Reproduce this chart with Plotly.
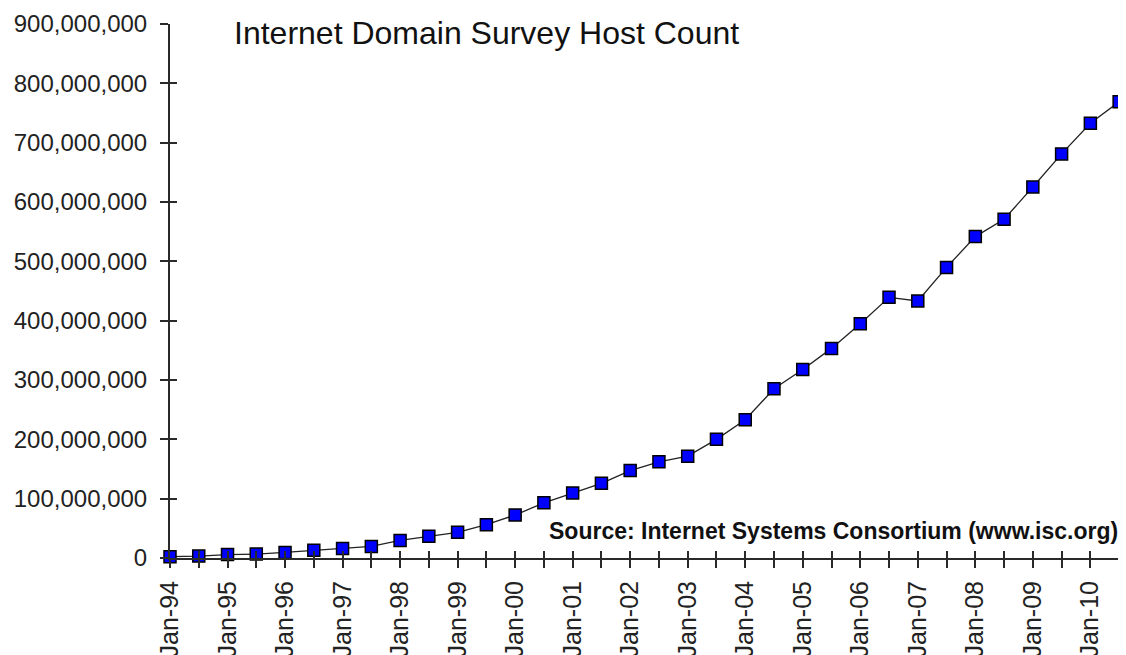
import plotly.graph_objects as go

dates = ["Jan-94","Jul-94","Jan-95","Jul-95","Jan-96","Jul-96","Jan-97","Jul-97",
         "Jan-98","Jul-98","Jan-99","Jul-99","Jan-00","Jul-00","Jan-01","Jul-01",
         "Jan-02","Jul-02","Jan-03","Jul-03","Jan-04","Jul-04","Jan-05","Jul-05",
         "Jan-06","Jul-06","Jan-07","Jul-07","Jan-08","Jul-08","Jan-09","Jul-09",
         "Jan-10","Jul-10"]
hosts = [2217000, 3212000, 5846000, 6642000, 9472000, 12881000, 16146000, 19540000,
         29670000, 36739000, 43230000, 56218000, 72398092, 93047785, 109574429, 125888197,
         147344723, 162128493, 171638297, 200000000, 233101481, 285139107, 317646084, 353284187,
         394991609, 439286364, 433193199, 489774269, 541677360, 570937778, 625226456, 681064561,
         732740444, 768913036]
y_ticks = [0, 100000000, 200000000, 300000000, 400000000, 500000000,
           600000000, 700000000, 800000000, 900000000]
y_tick_labels = ["0", "100,000,000", "200,000,000", "300,000,000", "400,000,000",
                 "500,000,000", "600,000,000", "700,000,000", "800,000,000", "900,000,000"]

idx = list(range(len(dates)))
x_tick_labels = [d if d.startswith("Jan") else "" for d in dates]

FONT = "Liberation Sans, Arial, sans-serif"
AX = "#2a2a2a"
XR = [0, 33.1]

fig = go.Figure()
fig.add_trace(go.Scatter(
    x=idx, y=hosts, mode="lines+markers",
    line=dict(color="#222222", width=1.3),
    marker=dict(symbol="square", size=12, color="#0000ff",
                line=dict(color="#000000", width=1.5)),
    cliponaxis=False, showlegend=False, hoverinfo="x+y"))
# invisible trace on overlay axes to draw inward half of crossing ticks
fig.add_trace(go.Scatter(
    x=idx, y=hosts, xaxis="x2", yaxis="y2", mode="markers",
    marker=dict(opacity=0), showlegend=False, hoverinfo="skip"))

# page body has an 8px margin, so the figure is sized to end at the window edge
fig.update_layout(
    width=1118, height=647,
    margin=dict(l=162, r=4, t=16, b=97),
    paper_bgcolor="white", plot_bgcolor="white",
    font=dict(family=FONT, color="#222222"),
    xaxis=dict(range=XR, tickmode="array", tickvals=idx, ticktext=x_tick_labels,
               tickangle=-90, ticks="outside", ticklen=8, tickwidth=2, tickcolor=AX,
               showline=True, linecolor=AX, linewidth=2, showgrid=False, zeroline=False,
               automargin=False, ticklabelstandoff=3,
               tickfont=dict(size=25, family=FONT, color="#222222")),
    yaxis=dict(range=[0, 900000000], tickmode="array", tickvals=y_ticks,
               ticktext=y_tick_labels, ticks="outside", ticklen=8, tickwidth=2,
               tickcolor=AX, showline=True, linecolor=AX, linewidth=2,
               showgrid=False, zeroline=False, ticklabelstandoff=8, automargin=False,
               tickfont=dict(size=24, family=FONT, color="#222222")),
    xaxis2=dict(overlaying="x", anchor="y2", range=XR, tickmode="array",
                tickvals=idx, ticks="inside", ticklen=7, tickwidth=2, tickcolor=AX,
                showticklabels=False, showline=False, showgrid=False, zeroline=False),
    yaxis2=dict(overlaying="y", anchor="x2", side="left", range=[0, 900000000],
                tickmode="array", tickvals=y_ticks, ticks="inside", ticklen=7,
                tickwidth=2, tickcolor=AX, showticklabels=False, showline=False,
                showgrid=False, zeroline=False),
    annotations=[
        dict(text="Internet Domain Survey Host Count", xref="paper", yref="paper",
             x=0.065, y=0.983, xanchor="left", yanchor="middle", showarrow=False,
             font=dict(size=32, family=FONT, color="#111111")),
        dict(text="<b>Source: Internet Systems Consortium (www.isc.org)</b>",
             xref="paper", yref="paper", x=0.998, y=0.05, xanchor="right",
             yanchor="middle", showarrow=False,
             font=dict(size=23, family=FONT, color="#111111")),
    ],
)
fig.write_html("out.html")
